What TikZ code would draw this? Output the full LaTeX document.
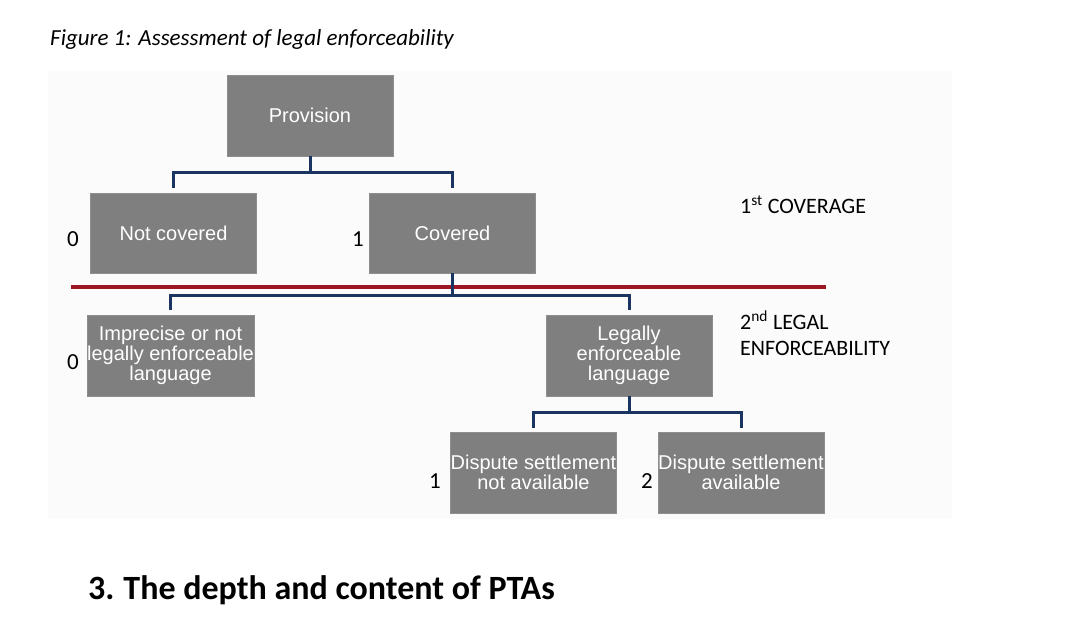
\documentclass[tikz,border=0pt]{standalone}
\usepackage{fontspec}
\setmainfont{Carlito}
\newfontfamily\boxfont{Liberation Sans}
\usetikzlibrary{calc}
\definecolor{boxgray}{HTML}{7F7F7F}
\definecolor{boxedge}{HTML}{8E8E8E}
\definecolor{navy}{HTML}{1B3563}
\definecolor{darkred}{HTML}{9E1622}
\definecolor{panel}{HTML}{FBFBFB}
\tikzset{
  gbox/.style={rectangle, fill=boxgray, draw=boxedge, line width=0.6pt, text=white,
    minimum width=166pt, minimum height=81pt, inner sep=0pt, align=center,
    font=\boxfont\fontsize{20}{20}\selectfont},
  conn/.style={draw=navy, line width=3pt},
  sepline/.style={draw=darkred, line width=4pt},
  numlab/.style={inner sep=0pt, font=\fontsize{23}{26}\selectfont},
  sidelab/.style={inner sep=0pt, anchor=base west, font=\fontsize{22}{26}\selectfont}
}
\begin{document}
\begin{tikzpicture}[x=1pt,y=-1pt]
\useasboundingbox (0,0) rectangle (1080,626);
\fill[white] (0,0) rectangle (1080,626);
\fill[panel] (48,71) rectangle (952,519);

% title and heading
\node[inner sep=0pt, anchor=base west, font=\itshape\fontsize{23}{26}\selectfont] (title) at (50,46) {Figure 1: Assessment of legal enforceability};
\node[inner sep=0pt, anchor=base west, font=\bfseries\fontsize{34}{40}\selectfont] (heading) at (88,599) {3.\hspace{9pt}The depth and content of PTAs};

% boxes
\node[gbox] (prov) at (310,115.5) {Provision};
\node[gbox, minimum height=80pt] (nc) at (173.5,233) {Not covered};
\node[gbox, minimum height=80pt] (cov) at (452.5,233) {Covered};
\node[gbox] (imp) at (170.5,355.5) {Imprecise or not\\legally enforceable\\language};
\node[gbox] (leg) at (629,355.5) {Legally\\enforceable\\language};
\node[gbox] (dna) at (533.5,472.5) {Dispute settlement\\not available};
\node[gbox] (dav) at (741,472.5) {Dispute settlement\\available};

% numeric labels
\node[numlab] (l0a) at (73,239) {0};
\node[numlab] (l1a) at (358,239) {1};
\node[numlab] (l0b) at (73,362) {0};
\node[numlab] (l1b) at (435,481) {1};
\node[numlab] (l2b) at (647,481) {2};

% side labels
\node[sidelab] (cover) at (740,213) {1\textsuperscript{st} COVERAGE};
\node[sidelab] (legal) at (740,329) {2\textsuperscript{nd} LEGAL};
\node[sidelab] (enf) at (740,355) {ENFORCEABILITY};

% red separator
\coordinate (rl) at (71,287);
\coordinate (rr) at (826,287);
\draw[sepline] (rl) -- (rr);

% connectors
\draw[conn] (prov.south) -- ++(0,16) coordinate (j1);
\draw[conn] ($(nc.north)+(0,-5)$) |- (j1) -| ($(cov.north)+(0,-5)$);

\draw[conn] (cov.south) -- ++(0,22) coordinate (j2);
\draw[conn] ($(imp.north)+(0,-5)$) |- (j2) -| ($(leg.north)+(0,-5)$);

\draw[conn] (leg.south) -- ++(0,16) coordinate (j3);
\draw[conn] ($(dna.north)+(0,-4)$) |- (j3) -| ($(dav.north)+(0,-4)$);
\end{tikzpicture}
\end{document}
